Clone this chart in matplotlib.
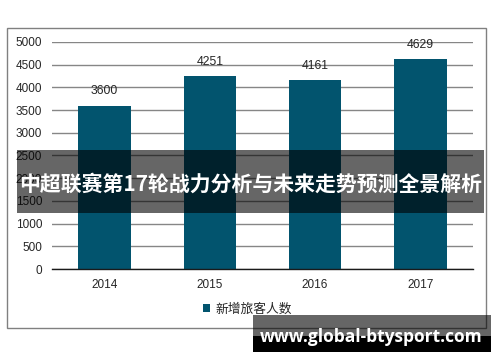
import matplotlib
matplotlib.use("Agg")
import matplotlib.pyplot as plt
from matplotlib.patches import Rectangle, Patch

plt.rcParams['font.family'] = ['Liberation Sans', 'Noto Sans CJK SC', 'DejaVu Sans']

categories = ['2014', '2015', '2016', '2017']
values = [3600, 4251, 4161, 4629]
series_name = '新增旅客人数'
yticks = [0, 500, 1000, 1500, 2000, 2500, 3000, 3500, 4000, 4500, 5000]
title_text = '中超联赛第17轮战力分析与未来走势预测全景解析'
watermark = 'www.global-btysport.com'

bar_color = '#02546E'
grid_color = '#868686'
text_color = '#262626'

fig = plt.figure(figsize=(5, 3.62), dpi=100)
fig.patch.set_facecolor('white')

# outer chart border
fig.patches.append(Rectangle((0.014, 0.094), 0.958, 0.8287, transform=fig.transFigure,
                             fill=False, edgecolor='#808080', linewidth=1.0, zorder=0))

ax = fig.add_axes([0.104, 0.2569, 0.842, 0.6271])
x = list(range(len(categories)))
bars = ax.bar(x, values, width=0.5, color=bar_color, zorder=3)
ax.set_xlim(-0.5, 3.5)
ax.set_ylim(0, 5000)
ax.set_yticks(yticks)
ax.set_yticklabels([str(v) for v in yticks])
ax.set_xticks(x)
ax.set_xticklabels(categories)
ax.tick_params(axis='both', length=0, labelsize=8.5, colors=text_color)
ax.tick_params(axis='y', pad=7)
ax.tick_params(axis='x', pad=7)
for s in ['top', 'right', 'left']:
    ax.spines[s].set_visible(False)
ax.spines['bottom'].set_color('#1a1a1a')
ax.spines['bottom'].set_linewidth(1.0)
ax.spines['bottom'].set_zorder(4)
ax.yaxis.grid(True, color=grid_color, linewidth=1.0, zorder=0)
ax.set_axisbelow(True)
ax.bar_label(bars, labels=[str(v) for v in values], padding=6, fontsize=8.8, color=text_color)

fig.legend(handles=[Patch(facecolor=bar_color, edgecolor='none', label=series_name)],
           loc='center', bbox_to_anchor=(0.495, 0.1464), frameon=False,
           handlelength=0.55, handleheight=0.55, handletextpad=0.4,
           prop={'family': ['Noto Sans CJK SC', 'DejaVu Sans'], 'size': 9.2},
           labelcolor=text_color)

# title banner overlay
fig.patches.append(Rectangle((0.034, 0.4116), 0.934, 0.174, transform=fig.transFigure,
                             facecolor='black', alpha=0.6, edgecolor='none', zorder=10))
fig.text(0.501, 0.4917, title_text, ha='center', va='center', color='white',
         fontsize=15.0, fontweight='bold', family=['Noto Sans CJK SC', 'DejaVu Sans'], zorder=11)

# watermark
fig.patches.append(Rectangle((0.506, 0.0276), 0.476, 0.1022, transform=fig.transFigure,
                             facecolor='black', alpha=0.6, edgecolor='none', zorder=10))
fig.patches.append(Rectangle((0.506, 0.0276), 0.476, 0.0442, transform=fig.transFigure,
                             facecolor='black', edgecolor='none', zorder=10))
fig.text(0.742, 0.069, watermark, ha='center', va='center', color='white',
         fontsize=12.5, fontweight='bold', family=['Open Sans', 'DejaVu Sans'], zorder=11)

fig.savefig('out.png', dpi=100)
